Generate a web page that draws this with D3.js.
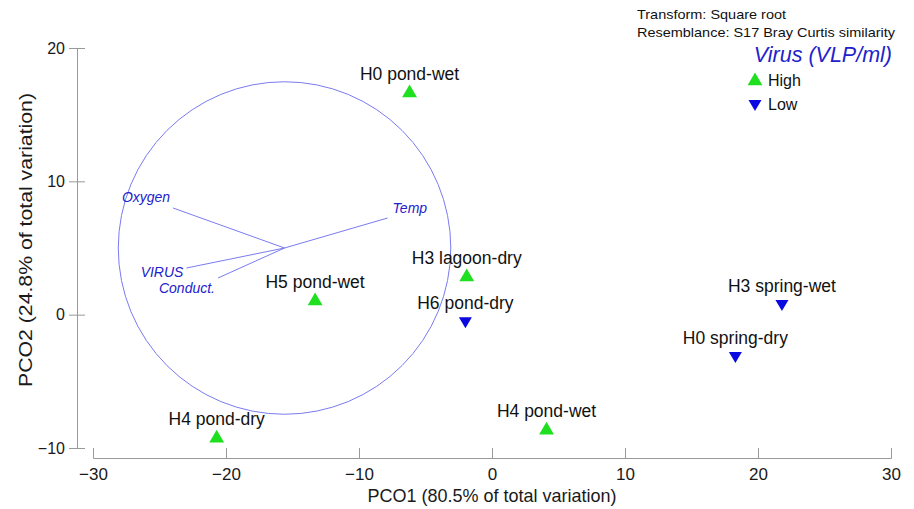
<!DOCTYPE html>
<html>
<head>
<meta charset="utf-8">
<script src="https://cdn.jsdelivr.net/npm/d3@7/dist/d3.min.js"></script>
<style>
  html, body { margin: 0; padding: 0; background: #fff; }
  svg { display: block; font-family: "Liberation Sans", Arial, sans-serif; }
</style>
</head>
<body>
<svg id="chart" width="914" height="509"></svg>
<script>
// Sample scores on the first two principal coordinates
const sampleNames = ["H0 pond-wet", "H5 pond-wet", "H3 lagoon-dry", "H6 pond-dry",
                     "H4 pond-dry", "H4 pond-wet", "H3 spring-wet", "H0 spring-dry"];
const pco1 = [-6.2, -13.3, -1.9, -2.0, -20.7, 4.1, 21.8, 18.3];
const pco2 = [16.7, 1.1, 2.9, -0.5, -9.2, -8.6, 0.8, -3.1];
const virusGroup = ["High", "High", "High", "Low", "High", "High", "Low", "Low"];

// Vector overlay (correlations, in units of the circle radius)
const vectorNames = ["Oxygen", "Temp", "VIRUS", "Conduct."];
const vectorX = [-0.67, 0.62, -0.59, -0.40];
const vectorY = [0.24, 0.18, -0.12, -0.18];
const circleCentre = [-15.6, 5.0];
const circleRadius = 12.5;

const xTicks = [-30, -20, -10, 0, 10, 20, 30];
const yTicks = [-10, 0, 10, 20];
const groups = ["High", "Low"];

const svg = d3.select("#chart");
const x = d3.scaleLinear().domain([-30, 30]).range([93, 891]);
const y = d3.scaleLinear().domain([-10, 20]).range([448, 48]);
const pxPerUnit = x(1) - x(0);

const green = "#1fe01f", blue = "#0a0ae0", vecColor = "#7b7bf0", ink = "#1a1a1a";
const minus = d => d < 0 ? "\u2212" + Math.abs(d) : d;

// X axis, offset below the plot, ticks pointing up
const xAxis = svg.append("g").attr("transform", "translate(0,458)")
  .call(d3.axisTop(x).tickValues(xTicks).tickSize(10).tickFormat(minus));
xAxis.select(".domain").attr("stroke", "#999");
xAxis.selectAll(".tick line").attr("stroke", "#999");
xAxis.selectAll(".tick text").attr("y", 22).attr("dy", null)
  .attr("font-size", 17).attr("fill", ink);

// Y axis, offset left of the plot, ticks crossing the line
const yAxis = svg.append("g").attr("transform", "translate(77,0)")
  .call(d3.axisLeft(y).tickValues(yTicks).tickSize(8).tickFormat(minus));
yAxis.select(".domain").attr("stroke", "#999");
yAxis.selectAll(".tick line").attr("stroke", "#999").attr("x1", 8);
yAxis.selectAll(".tick text").attr("x", -12)
  .attr("font-size", 16).attr("fill", ink);

svg.append("text").attr("x", 492).attr("y", 502).attr("text-anchor", "middle")
  .attr("font-size", 19).attr("textLength", 249).attr("lengthAdjust", "spacingAndGlyphs")
  .attr("fill", ink).text("PCO1 (80.5% of total variation)");
svg.append("text").attr("transform", "translate(32,240) rotate(-90)").attr("text-anchor", "middle")
  .attr("font-size", 19).attr("textLength", 294).attr("lengthAdjust", "spacingAndGlyphs")
  .attr("fill", ink).text("PCO2 (24.8% of total variation)");

// Vector circle and lines
const cx = x(circleCentre[0]), cy = y(circleCentre[1]);
const rPx = circleRadius * pxPerUnit;
svg.append("circle").attr("cx", cx).attr("cy", cy).attr("r", rPx)
  .attr("fill", "none").attr("stroke", vecColor).attr("stroke-width", 1);

const vectors = vectorNames.map((n, i) => ({ name: n, vx: vectorX[i], vy: vectorY[i] }));
svg.selectAll("line.vec").data(vectors).join("line").attr("class", "vec")
  .attr("x1", cx).attr("y1", cy)
  .attr("x2", d => x(circleCentre[0] + d.vx * circleRadius))
  .attr("y2", d => y(circleCentre[1] + d.vy * circleRadius))
  .attr("stroke", vecColor).attr("stroke-width", 1);

const vecLabelPos = {
  "Oxygen": { dx: -3, dy: -6, anchor: "end" },
  "Temp": { dx: 5, dy: -5, anchor: "start" },
  "VIRUS": { dx: -3, dy: 9, anchor: "end" },
  "Conduct.": { dx: -3, dy: 15, anchor: "end" }
};
svg.selectAll("text.vec").data(vectors).join("text").attr("class", "vec")
  .attr("x", d => x(circleCentre[0] + d.vx * circleRadius) + vecLabelPos[d.name].dx)
  .attr("y", d => y(circleCentre[1] + d.vy * circleRadius) + vecLabelPos[d.name].dy)
  .attr("text-anchor", d => vecLabelPos[d.name].anchor)
  .attr("font-size", 14).attr("font-style", "italic").attr("fill", "#2222cc")
  .text(d => d.name);

// Sample points
const samples = sampleNames.map((n, i) => ({ name: n, px: pco1[i], py: pco2[i], g: virusGroup[i] }));
const triUp = d3.symbol().type(d3.symbolTriangle).size(95);
const triDown = "M-6.5,-5L6.5,-5L0,6Z";
svg.selectAll("path.pt").data(samples).join("path").attr("class", "pt")
  .attr("transform", d => `translate(${x(d.px)},${y(d.py) + 1})`)
  .attr("d", d => d.g === "High" ? triUp() : triDown)
  .attr("fill", d => d.g === "High" ? green : blue);

svg.selectAll("text.pt").data(samples).join("text").attr("class", "pt")
  .attr("x", d => x(d.px)).attr("y", d => y(d.py) - 12)
  .attr("text-anchor", "middle").attr("font-size", 17.5).attr("fill", "#111")
  .text(d => d.name);

// Header notes and legend
svg.append("text").attr("x", 637).attr("y", 19).attr("font-size", 13.5)
  .attr("textLength", 149).attr("lengthAdjust", "spacingAndGlyphs").attr("fill", "#111")
  .text("Transform: Square root");
svg.append("text").attr("x", 637).attr("y", 37).attr("font-size", 13.5)
  .attr("textLength", 258).attr("lengthAdjust", "spacingAndGlyphs").attr("fill", "#111")
  .text("Resemblance: S17 Bray Curtis similarity");
svg.append("text").attr("x", 892).attr("y", 62).attr("text-anchor", "end")
  .attr("font-size", 21.5).attr("font-style", "italic").attr("fill", "#2222cc")
  .text("Virus (VLP/ml)");
const legend = svg.append("g").selectAll("g").data(groups).join("g")
  .attr("transform", (d, i) => `translate(755,${81 + i * 24})`);
legend.append("path").attr("d", d => d === "High" ? triUp() : triDown)
  .attr("fill", d => d === "High" ? green : blue);
legend.append("text").attr("x", 13).attr("y", 5).attr("font-size", 16).attr("fill", "#111")
  .text(d => d);
</script>
</body>
</html>
